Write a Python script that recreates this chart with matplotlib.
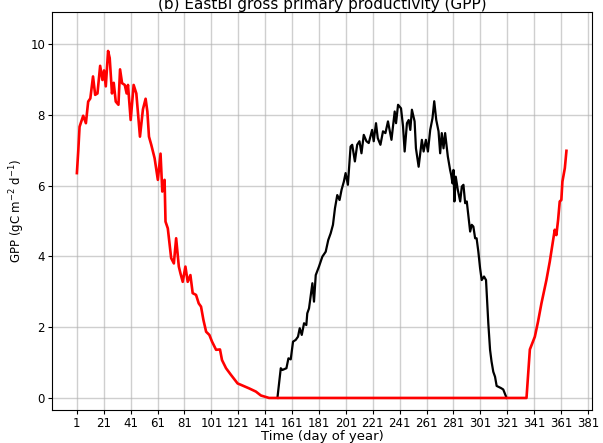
import matplotlib
matplotlib.use("Agg")
import matplotlib.pyplot as plt
import numpy as np

# red series (day of year, GPP)
red_day = [1, 2, 3, 5.7, 7.7, 9.4, 11, 13, 14.6, 16.3, 18.3, 20, 21.2, 22.5, 24.2, 25.4,
           27.1, 28.4, 29.9, 31.9, 33.1, 34.6, 36.6, 38, 39, 41, 43.2, 45.2, 47.9, 50.1,
           52.1, 53.4, 54.6, 56.3, 58.8, 61.2, 63.2, 64.5, 66.2, 66.9, 68.6, 71.1, 73.1,
           74.8, 76.8, 78, 79.7, 81.7, 83.4, 85.4, 87.1, 89.6, 91.6, 93.3, 95.1, 97.1,
           99.5, 101.5, 104.5, 107.4, 108.9, 111.9, 115.6, 120.5, 123, 129.1, 134.1,
           137.8, 143.9, 335.3, 337.8, 341.5, 343.9, 346.4, 350.1, 352.6, 355.1, 356.3,
           357.5, 358.8, 360, 361.2, 362, 363.8, 365]
red_gpp = [6.35, 6.96, 7.66, 7.97, 7.76, 8.37, 8.46, 9.08, 8.56, 8.6, 9.38, 8.98, 9.25,
           8.8, 9.8, 9.6, 8.6, 8.9, 8.37, 8.28, 9.28, 8.89, 8.84, 8.6, 8.84, 7.85, 8.84,
           8.6, 7.38, 8.15, 8.45, 8.09, 7.38, 7.15, 6.77, 6.16, 6.9, 5.83, 6.16, 4.98,
           4.79, 3.95, 3.8, 4.51, 3.71, 3.52, 3.28, 3.71, 3.28, 3.47, 2.96, 2.91, 2.67,
           2.58, 2.2, 1.87, 1.78, 1.59, 1.36, 1.37, 1.07, 0.84, 0.65, 0.41, 0.37, 0.27,
           0.18, 0.07, 0.0, 0.0, 1.37, 1.73, 2.16, 2.67, 3.33, 3.85, 4.46, 4.75, 4.6,
           5.03, 5.55, 5.59, 6.11, 6.49, 6.98]

# black series (day of year, GPP)
black_day = [150.1, 152.6, 153.8, 156.8, 158.3, 160, 161.7, 163.7, 165.4, 166.7, 168.2,
             169.9, 171.6, 172.3, 173.6, 176.1, 177.3, 178.6, 181, 183.5, 186, 187.9,
             189.7, 191.4, 192.9, 194.6, 196.3, 197.8, 199.5, 200.8, 202.5, 204.5, 205.7,
             207.7, 209.4, 211.1, 212.6, 214.3, 216.3, 218, 220.5, 221.7, 223.4, 224.7,
             226.7, 228.6, 230.4, 232.3, 234.9, 237.3, 238.3, 239.8, 242, 243.5, 244.7,
             246.4, 247.7, 248.9, 250.1, 252.1, 253.1, 255.1, 257.5, 258.8, 260.5, 262,
             263.7, 265.4, 266.7, 268.2, 269.9, 271.1, 272.3, 273.6, 274.8, 276.8, 278.5,
             279.3, 280.3, 281, 281.7, 282.7, 284.2, 286, 287.2, 288.4, 289.7, 290.9,
             291.6, 293.4, 294.6, 295.8, 297.1, 298.2, 299.5, 300.8, 302, 303.7, 305.2,
             306.9, 308.2, 309.3, 310.6, 311.9, 313.1, 316.3, 318, 320.5]
black_gpp = [0.0, 0.84, 0.79, 0.84, 1.12, 1.09, 1.59, 1.64, 1.73, 1.97, 1.78, 2.11, 2.06,
             2.39, 2.53, 3.24, 2.72, 3.47, 3.71, 3.99, 4.13, 4.46, 4.65, 4.89, 5.36, 5.73,
             5.59, 5.88, 6.11, 6.35, 6.02, 7.1, 7.15, 6.68, 7.15, 7.25, 6.91, 7.43, 7.25,
             7.2, 7.57, 7.25, 7.76, 7.34, 7.15, 7.53, 7.48, 7.81, 7.29, 8.09, 7.76, 8.28,
             8.18, 7.67, 6.96, 7.76, 7.85, 7.57, 8.14, 7.81, 7.05, 6.53, 7.29, 6.96, 7.29,
             6.96, 7.57, 7.9, 8.38, 7.85, 7.53, 6.91, 7.48, 7.05, 7.48, 6.82, 6.44, 6.3,
             6.06, 6.44, 5.55, 6.25, 5.88, 5.55, 5.97, 6.02, 5.5, 5.55, 5.31, 4.7, 4.89,
             4.84, 4.51, 4.51, 4.13, 3.66, 3.33, 3.43, 3.33, 2.11, 1.36, 1.03, 0.74, 0.6,
             0.34, 0.28, 0.24, 0.0]

xticks = np.arange(1, 382, 20)
yticks = np.arange(0, 11, 2)

fig = plt.figure(figsize=(6.03, 4.43), dpi=100)
ax = fig.add_axes([52 / 603, 33 / 443, 540 / 603, 398 / 443])

ax.plot(black_day, black_gpp, color="black", lw=1.6, zorder=3)
ax.plot(red_day, red_gpp, color="red", lw=1.9, zorder=4)

ax.set_xlim(-17.5, 384)
ax.set_ylim(-0.34, 10.9)
ax.set_xticks(xticks)
ax.set_yticks(yticks)
ax.tick_params(labelsize=8.5, pad=2, length=3)
ax.grid(True, color="#b0b0b0", alpha=0.6, lw=1)
ax.set_axisbelow(True)

ax.set_xlabel("Time (day of year)", fontsize=9.5, labelpad=0)
ax.set_ylabel("GPP (gC m$^{-2}$ d$^{-1}$)", fontsize=8.5, labelpad=2)
ax.set_title("(b) EastBI gross primary productivity (GPP)", fontsize=11, pad=1.5)

fig.savefig("out.png", dpi=100)
